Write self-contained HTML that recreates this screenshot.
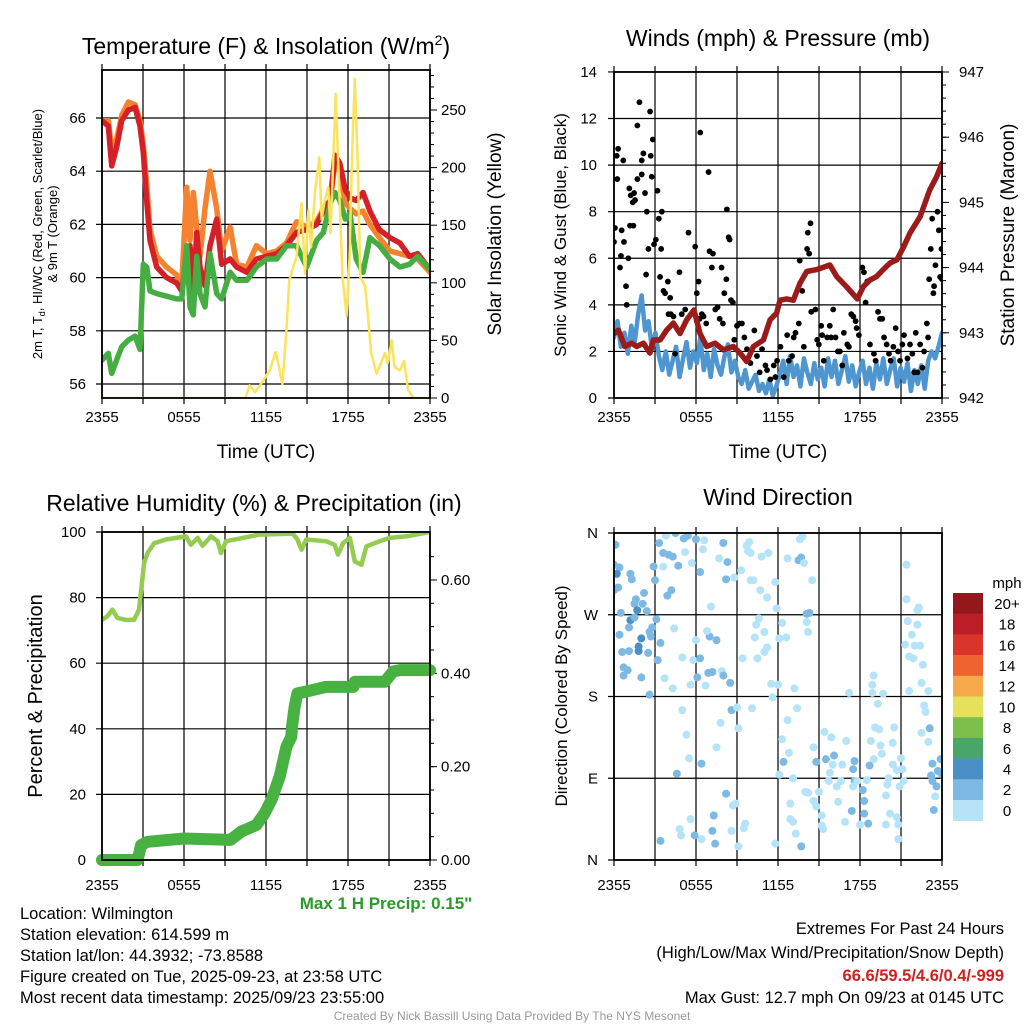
<!DOCTYPE html>
<html><head><meta charset="utf-8">
<style>
html,body{margin:0;padding:0;background:#fff;}
svg{display:block;font-family:"Liberation Sans",sans-serif;}
</style></head>
<body>
<svg id="fig" width="1024" height="1024" viewBox="0 0 1024 1024" xmlns="http://www.w3.org/2000/svg">
<defs>
<clipPath id="c1"><rect x="102" y="70" width="328" height="328"/></clipPath>
<clipPath id="c2"><rect x="614" y="72" width="328" height="326"/></clipPath>
<clipPath id="c3"><rect x="102" y="532" width="328" height="328"/></clipPath>
<clipPath id="c4"><rect x="614" y="533" width="328" height="327"/></clipPath>
</defs>
<rect width="1024" height="1024" fill="#fff"/>
<g id="layer"></g>
<!-- titles -->
<text x="266" y="54" font-size="23" text-anchor="middle">Temperature (F) &amp; Insolation (W/m<tspan font-size="14" dy="-9">2</tspan><tspan dy="9">)</tspan></text>
<text x="778" y="46" font-size="23" text-anchor="middle">Winds (mph) &amp; Pressure (mb)</text>
<text x="254" y="511" font-size="23" text-anchor="middle">Relative Humidity (%) &amp; Precipitation (in)</text>
<text x="778" y="505" font-size="23" text-anchor="middle">Wind Direction</text>
<!-- axis titles -->
<text transform="translate(42,234) rotate(-90)" font-size="13" text-anchor="middle">2m T, T<tspan font-size="9" dy="3">d</tspan><tspan dy="-3">, HI/WC (Red, Green, Scarlet/Blue)</tspan></text>
<text transform="translate(57,234) rotate(-90)" font-size="13" text-anchor="middle">&amp; 9m T (Orange)</text>
<text transform="translate(501,234) rotate(-90)" font-size="19" text-anchor="middle">Solar Insolation (Yellow)</text>
<text x="266" y="458" font-size="19" text-anchor="middle">Time (UTC)</text>
<text x="778" y="458" font-size="19" text-anchor="middle">Time (UTC)</text>
<text transform="translate(566,235) rotate(-90)" font-size="17" text-anchor="middle">Sonic Wind &amp; Gust (Blue, Black)</text>
<text transform="translate(1014,235) rotate(-90)" font-size="19" text-anchor="middle">Station Pressure (Maroon)</text>
<text transform="translate(42,696) rotate(-90)" font-size="20" text-anchor="middle">Percent &amp; Precipitation</text>
<text transform="translate(567,696) rotate(-90)" font-size="17" text-anchor="middle">Direction (Colored By Speed)</text>
<text x="386" y="909" font-size="17" font-weight="bold" fill="#2a9a2a" text-anchor="middle">Max 1 H Precip: 0.15"</text>
<!-- footer -->
<g font-size="16.5">
<text x="20" y="919">Location: Wilmington</text>
<text x="20" y="940">Station elevation: 614.599 m</text>
<text x="20" y="961">Station lat/lon: 44.3932; -73.8588</text>
<text x="20" y="982">Figure created on Tue, 2025-09-23, at 23:58 UTC</text>
<text x="20" y="1003">Most recent data timestamp: 2025/09/23 23:55:00</text>
</g>
<g font-size="16.5" text-anchor="end">
<text x="1004" y="934">Extremes For Past 24 Hours</text>
<text x="1004" y="958">(High/Low/Max Wind/Precipitation/Snow Depth)</text>
<text x="1004" y="981" font-weight="bold" fill="#d02020">66.6/59.5/4.6/0.4/-999</text>
<text x="1004" y="1003">Max Gust: 12.7 mph On 09/23 at 0145 UTC</text>
</g>
<text x="512" y="1020" font-size="12" fill="#999" text-anchor="middle">Created By Nick Bassill Using Data Provided By The NYS Mesonet</text>
</svg>
<script>
// ---------- data ----------
const tempHours = [0,0.46,0.71,1.07,1.44,1.93,2.42,2.78,3.02,3.27,3.51,4.0,4.73,5.46,5.83,6.2,6.44,6.68,6.93,7.17,7.54,7.9,8.39,8.76,9.37,9.85,10.6,11.3,12.05,12.78,13.5,14.24,14.97,15.7,16.2,16.7,17.05,17.4,17.8,18.15,18.6,19.1,19.6,20.3,21.07,21.8,22.5,23.1,24];
const tempRed = [65.9,65.7,64.2,64.9,65.9,66.3,66.4,65.7,64.7,62.9,61.4,60.4,60.0,59.8,59.5,60.7,61.2,59.4,61.7,60.4,59.7,61.2,62.2,60.5,60.7,60.4,60.2,60.7,60.8,60.9,61.2,61.7,61.8,62.0,62.5,62.9,64.6,64.3,63.3,63.0,62.9,63.2,62.5,61.8,61.5,61.3,60.8,60.9,60.3];
const temp9mOrange = [65.9,65.9,64.8,65.2,66.1,66.6,66.5,65.9,65.0,63.5,61.8,60.8,60.4,60.1,59.7,63.4,61.4,63.2,61.9,60.8,62.6,64.0,62.6,61.0,61.9,60.5,60.4,61.2,60.9,61.0,61.3,62.1,61.9,62.1,62.6,62.9,64.3,64.0,62.8,62.6,62.4,62.5,62.0,61.5,61.0,60.9,60.8,60.7,60.2];
const dewGreen = [56.9,57.15,56.4,56.9,57.4,57.65,57.8,57.3,60.5,60.4,59.5,59.4,59.3,59.2,59.2,61.2,58.9,58.6,60.8,59.4,58.9,60.9,59.4,59.2,60.2,59.9,59.9,60.4,60.7,60.7,61.2,61.2,60.4,61.4,61.7,62.8,63.2,62.9,62.2,62.4,60.7,60.2,61.5,61.2,60.7,60.4,60.5,60.8,60.3];
const solarHours = [0,10.5,10.8,11.2,11.8,12.3,12.7,12.9,13.2,13.5,13.7,14.24,14.6,14.85,15.1,15.3,15.58,15.9,16.07,16.3,16.56,16.73,16.9,17.1,17.36,17.6,17.9,18.1,18.3,18.5,18.7,18.9,19.25,19.4,19.7,20.1,20.3,20.7,20.9,21.2,21.4,21.8,22.1,22.4,22.8,24];
const solarValues = [0,0,11,5,15,25,40,30,12,60,102,123,169,108,163,131,178,209,155,172,183,143,201,264,178,105,71,120,212,277,207,105,97,79,39,21,27,39,30,50,27,24,32,7,0,0];
const tempTicks = [56,58,60,62,64,66];
const solarTicks = [0,50,100,150,200,250];
const timeTickLabels = ["2355","0555","1155","1755","2355"];

const sonicWind = [2.6,3.3,2.2,2.8,1.9,3.1,2.4,3.6,4.4,2.9,3.3,2.1,2.8,
 1.8,1.2,2.0,1.0,1.6,2.2,0.9,1.7,2.4,1.3,2.0,
 1.5,2.6,1.2,1.9,0.9,2.1,1.4,1.0,1.8,2.3,1.1,1.6,
 0.9,0.6,1.2,0.4,0.7,1.0,0.3,0.6,0.2,0.8,0.1,0.5,
 1.0,1.6,0.6,1.8,0.9,1.4,0.5,1.7,1.1,0.6,1.5,0.8,
 1.3,0.5,1.7,0.9,1.6,0.6,1.2,1.8,0.7,1.4,0.5,1.1,
 1.6,0.6,1.3,0.4,1.5,0.8,1.7,0.6,1.2,1.7,0.5,1.3,
 0.7,1.5,0.3,1.2,0.6,1.4,0.4,1.6,2.0,1.7,2.2,2.8];
const gustObs = [[0,6.7],[0.07,7.3],[0.2,10.4],[0.3,10.7],[0.24,9.4],[0.44,5.6],[0.56,7.2],[0.51,6.1],[0.68,10.2],[0.73,6.7],[0.88,4.8],[0.93,4.0],[1.05,6.0],[1.12,9.0],[1.17,7.4],[1.22,8.7],[1.42,7.4],[1.37,8.4],[1.47,8.8],[1.54,8.5],[1.71,11.7],[1.86,12.7],[1.71,9.4],[2.03,9.6],[2.03,10.2],[2.15,10.5],[2.27,8.8],[2.4,8.0],[2.35,5.3],[2.52,6.4],[2.64,12.3],[2.69,10.4],[2.76,9.5],[2.84,11.1],[2.93,6.6],[3.06,6.8],[3.18,8.9],[3.28,7.7],[3.5,8.0],[3.37,5.2],[3.45,6.4],[3.62,4.6],[3.74,4.5],[3.94,5.0],[4.11,4.3],[3.99,3.6],[4.16,3.6],[4.35,3.5],[4.47,1.9],[4.79,5.4],[4.96,3.6],[5.21,3.8],[5.45,7.1],[5.94,6.5],[6.06,4.5],[6.19,5.0],[6.31,11.4],[6.06,3.3],[6.26,3.4],[6.43,3.6],[6.55,3.5],[6.75,3.2],[6.92,9.7],[6.99,6.3],[7.24,6.2],[7.16,5.6],[7.41,3.8],[7.58,3.9],[7.73,3.4],[7.87,5.6],[7.97,3.2],[8.07,4.5],[8.22,5.1],[8.26,8.1],[8.39,6.9],[8.46,6.8],[8.56,4.2],[8.7,4.1],[8.8,2.5],[9.0,3.1],[9.19,3.2],[9.36,3.2],[9.54,2.6],[9.73,2.1],[9.98,1.5],[10.27,2.9],[10.46,1.8],[10.66,1.1],[10.83,2.1],[11.08,1.4],[11.2,1.2],[11.44,0.8],[11.69,1.4],[11.81,0.9],[11.93,1.6],[12.18,2.2],[12.42,0.9],[12.67,2.7],[12.79,1.6],[13.03,1.8],[13.15,2.6],[13.28,2.8],[13.52,3.2],[13.59,5.9],[13.77,4.6],[13.89,2.2],[14.13,6.4],[14.18,7.1],[14.28,6.2],[14.38,7.5],[14.43,3.7],[14.74,3.8],[14.87,2.5],[14.99,2.3],[15.16,3.1],[15.23,2.7],[15.35,1.6],[15.6,2.6],[15.79,3.1],[15.89,2.6],[16.04,3.8],[16.21,2.6],[16.38,2.0],[16.53,2.0],[16.7,1.4],[16.82,2.8],[17.07,2.3],[17.19,2.2],[17.36,3.6],[17.51,3.5],[17.68,3.3],[17.75,3.0],[17.92,2.7],[18.17,5.6],[18.29,5.4],[18.41,4.1],[18.53,5.0],[18.73,2.3],[19.02,1.9],[19.14,1.6],[19.32,3.7],[19.46,3.4],[19.63,3.4],[19.76,2.6],[19.95,2.3],[20.12,1.9],[20.24,1.6],[20.44,2.2],[20.61,3.0],[20.78,2.0],[20.93,1.6],[21.1,2.3],[21.22,2.7],[21.47,1.7],[21.66,2.3],[21.83,1.9],[21.96,1.1],[22.08,2.8],[22.2,1.1],[22.4,2.3],[22.57,1.3],[22.69,2.0],[22.89,3.2],[22.98,2.6],[23.06,5.1],[23.18,6.4],[23.28,7.7],[23.37,4.5],[23.42,4.8],[23.52,5.7],[23.67,8.0],[23.77,7.2],[23.86,5.2],[23.96,6.4],[24.0,5.1]];
const pressHours = [0,0.32,0.8,1.29,1.66,2.15,2.63,2.88,3.37,3.85,4.34,4.83,5.32,5.85,6.29,6.78,7.39,8.0,8.73,9.22,9.71,10.2,10.93,11.42,11.9,12.15,12.64,13.12,13.61,14.1,14.83,15.8,16.3,17.0,17.8,18.25,18.73,19.2,19.7,20.2,20.7,21.2,21.66,22.4,23.1,23.6,24];
const pressValues = [942.99,943.04,942.79,942.84,942.79,942.84,942.69,942.89,942.89,943.04,943.15,942.99,943.2,943.35,942.99,942.79,942.84,942.74,942.79,942.69,942.56,942.79,942.89,943.2,943.3,943.5,943.52,943.5,943.76,943.94,943.97,944.04,943.86,943.71,943.52,943.71,943.81,943.86,943.97,944.07,944.12,944.32,944.53,944.78,945.19,945.39,945.6];
const windTicks = [0,2,4,6,8,10,12,14];
const pressTicks = [942,943,944,945,946,947];

const rhHours = [0,0.39,0.77,1.12,1.74,2.35,2.71,3.08,3.33,3.82,4.67,5.9,6.14,6.5,7.0,7.36,7.98,8.46,8.71,9.08,10.3,11.52,13.97,14.3,14.6,14.95,16.4,17.03,17.27,17.64,18.13,18.5,18.98,19.35,20.33,21.06,22.3,24];
const rhValues = [73.2,74.3,76.3,73.8,73.2,73.2,76.3,90.5,93.6,96.6,97.7,98.5,98.7,96.1,98.2,95.8,98.7,97.2,93.6,97.2,98.2,99.2,99.5,97.7,94.6,97.7,97.2,96.1,93.1,96.6,98.2,91.0,90.0,95.6,97.2,98.2,98.7,100];
const precipHours = [0,2.6,2.86,3.33,6.0,9.4,10.2,11.3,11.9,12.4,13.0,13.5,13.85,13.9,14.1,14.3,14.95,16.4,18.4,18.5,20.7,21.3,21.8,24];
const precipValues = [0,0,0.032,0.039,0.046,0.043,0.061,0.075,0.1,0.129,0.179,0.243,0.264,0.286,0.329,0.357,0.361,0.371,0.371,0.382,0.382,0.404,0.407,0.407];
const rhTicks = [0,20,40,60,80,100];
const precipTicks = [0,0.2,0.4,0.6];
const precipTickLabels = ["0.00","0.20","0.40","0.60"];

const dirObs = [[0.1,347,3],[0,325,3],[0.4,322,3],[0.2,315,5],[0.3,300,3],[0,297,3],[0.5,272,3],[1.2,315,3],[1.3,309,3],[1.6,287,3],[1.5,282,3],[2.2,294,3],[2.1,282,3],[1.7,275,5],[2.4,274,3],[1.2,264,5],[1.5,267,3],[1.1,256,3],[2.0,244,5],[1.8,235,5],[1.8,230,5],[0.4,248,3],[0.6,229,3],[1.1,230,3],[2.6,251,3],[2.8,256,3],[2.7,246,3],[2.5,228,3],[3.2,220,3],[0.7,212,3],[1.0,209,3],[0.7,203,3],[2.0,201,3],[2.6,182,3],[3.1,265,3],[3.0,308,3],[2.9,323,3],[3.3,349,3],[3.8,357,1],[4.5,360,3],[5.1,354,3],[5.4,357,3],[6.0,353,3],[6.6,352,1],[6.5,342,1],[5.2,339,1],[3.6,338,3],[4.0,336,3],[4.3,334,3],[3.6,323,1],[4.7,324,3],[5.7,327,1],[6.3,317,3],[4.2,297,3],[3.9,291,3],[4.4,255,1],[6.0,242,1],[7.0,246,3],[6.8,252,1],[7.5,242,3],[3.4,239,3],[3.7,200,1],[4.3,189,1],[5.0,223,1],[5.6,193,1],[5.8,220,1],[6.3,222,3],[6.1,201,3],[6.7,192,1],[6.9,206,3],[7.2,207,3],[7.9,208,1],[8.0,203,3],[8.5,195,3],[7.1,279,1],[7.7,332,1],[8.0,349,3],[8.3,328,3],[8.2,309,3],[8.8,311,1],[9.3,319,1],[9.7,346,1],[9.9,350,1],[9.8,340,1],[10.0,338,1],[10.8,334,1],[11.3,338,1],[10.0,308,1],[10.2,308,1],[10.7,297,1],[11.2,289,1],[11.8,306,1],[11.9,277,1],[10.6,266,1],[10.4,259,1],[11.0,251,1],[10.3,245,1],[11.2,234,1],[11.0,229,1],[10.5,222,1],[9.4,222,1],[12.3,261,1],[12.1,244,1],[12.6,245,1],[11.5,194,1],[12.0,193,1],[11.6,179,1],[13.2,189,1],[12.7,332,1],[13.5,330,3],[13.7,333,3],[13.9,327,1],[13.6,353,1],[13.8,356,1],[14.5,308,1],[14.1,271,3],[14.3,272,3],[14.1,262,1],[14.2,251,1],[5.0,165,1],[5.3,138,1],[5.5,112,1],[4.6,95,3],[6.4,106,3],[7.5,124,1],[7.8,151,1],[8.6,165,3],[9.0,168,1],[9.1,145,1],[10.1,167,1],[13.4,167,1],[12.7,154,1],[12.3,133,1],[12.8,118,1],[12.4,108,3],[12.1,94,1],[13.1,90,1],[14.6,124,1],[14.8,108,3],[15.4,141,1],[15.9,135,1],[15.5,111,3],[16.1,115,3],[16.0,105,1],[15.8,96,1],[15.7,87,1],[16.3,81,1],[16.6,87,1],[16.7,105,1],[17.0,131,1],[17.2,184,1],[17.6,109,3],[17.5,100,3],[17.6,87,3],[17.5,81,1],[17.8,87,1],[18.2,77,3],[18.3,65,3],[18.5,88,1],[18.7,104,3],[19.0,111,1],[18.8,131,1],[19.1,146,1],[19.4,144,1],[19.5,126,1],[19.6,117,1],[19.0,203,1],[18.9,193,1],[18.9,184,1],[19.3,172,1],[19.7,183,1],[20.5,146,1],[20.4,129,1],[20.4,105,1],[20.1,90,1],[20.0,83,1],[19.9,71,1],[21.0,112,1],[21.1,100,1],[21.2,87,1],[20.9,81,1],[20.7,99,1],[20.2,51,1],[20.7,47,1],[20.8,23,1],[19.9,39,1],[20.8,39,1],[17.4,54,3],[18.0,39,1],[18.3,51,3],[18.6,40,3],[16.9,42,1],[16.4,64,1],[15.2,38,1],[15.3,34,1],[15.2,49,1],[14.8,59,1],[14.6,65,1],[15.0,75,1],[14.2,74,1],[12.9,62,1],[14.0,75,1],[12.9,45,1],[13.1,42,1],[13.3,29,1],[13.7,15,3],[11.8,18,1],[9.1,15,1],[9.6,40,1],[9.5,35,1],[8.6,32,1],[8.7,60,1],[8.9,62,1],[8.2,73,3],[7.3,49,3],[7.2,32,3],[7.4,18,3],[6.4,23,1],[5.9,27,3],[5.6,45,1],[4.8,34,1],[4.9,27,1],[3.4,21,3],[21.4,325,1],[21.4,287,1],[22.2,275,1],[22.3,278,1],[21.5,263,1],[22.2,259,1],[21.8,248,1],[22.0,236,1],[22.4,236,1],[21.3,237,1],[21.6,224,1],[21.9,222,1],[22.6,215,1],[22.5,195,1],[23.0,186,1],[21.6,186,1],[22.7,170,1],[22.8,163,1],[23.1,145,3],[22.5,140,1],[23.0,130,1],[23.3,106,3],[23.9,111,3],[23.7,98,3],[23.2,93,3],[23.3,87,3],[23.6,81,3],[23.5,70,1],[24.0,94,3],[23.4,55,3]];
const dirTicks = [0,90,180,270,360];
const dirTickLabels = ["N","E","S","W","N"];
const speedBins = ["0","2","4","6","8","10","12","14","16","18","20+"];
const speedColors = ["#b5e3f8","#7db9e3","#4a8fc6","#4aa56b","#7cc04c","#e6e15a","#f6a84b","#ef6330","#d9352a","#bb1e26","#93181c"];

// ---------- helpers ----------
const NS = "http://www.w3.org/2000/svg";
const layer = document.getElementById("layer");
function mk(tag, attrs, parent){
  const e = document.createElementNS(NS, tag);
  for (const k in attrs) e.setAttribute(k, attrs[k]);
  (parent || layer).appendChild(e);
  return e;
}
function pathD(xs, ys, sx, sy){
  return xs.map((x,i)=>(i?"L":"M")+sx(x).toFixed(1)+","+sy(ys[i]).toFixed(1)).join("");
}
function frame(name, x0, y0, x1, y1, xt){
  const g = mk("g", {});
  
  
  for (let h = 0; h <= 24; h += 3){
    const x = x0 + h/24*(x1-x0);
    mk("line", {x1:x, y1:y0-6, x2:x, y2:y1+6, stroke:"#000", "stroke-width":1.2}, g);
  }
  timeTickLabels.forEach((lab,i)=>{
    const x = x0 + (i*6)/24*(x1-x0);
    const t = mk("text", {x:x, y:xt, "font-size":15, "text-anchor":"middle"}, g);
    
    
    t.textContent = lab;
  });
  return g;
}
function hgrid(g, ys, x0, x1){
  ys.forEach(y => mk("line", {x1:x0-6, y1:y, x2:x1, y2:y, stroke:"#000", "stroke-width":1.2}, g));
}
function yLabels(g, name, vals, labels, sy, x, anchor){
  vals.forEach((v,i)=>{
    const t = mk("text", {x:x, y:sy(v)+5, "font-size":15, "text-anchor":anchor}, g);
    
    
    t.textContent = labels[i];
  });
}
function rightTicks(g, vals, sy, x, len){
  vals.forEach(v => mk("line", {x1:x, y1:sy(v), x2:x+len, y2:sy(v), stroke:"#000", "stroke-width":1}, g));
}
function border(x0,y0,x1,y1){
  const r = mk("rect", {x:x0, y:y0, width:x1-x0, height:y1-y0, fill:"none", stroke:"#000", "stroke-width":1.8});
  
  
}

// ---------- Panel 1: temperature ----------
{
  const x0=102,x1=430,y0=70,y1=398;
  const sx = t => x0 + t/24*(x1-x0);
  const yT = v => 384 - (v-56)*26.6;
  const yI = v => 398 - v*1.152;
  const g = frame("temp", x0,y0,x1,y1, 422);
  hgrid(g, tempTicks.map(yT), x0, x1);
  yLabels(g, "temp-y-tick-label", tempTicks, tempTicks.map(String), yT, 86, "end");
  rightTicks(g, solarTicks, yI, x1, 7);
  const minor=[]; for (let v=10; v<=280; v+=10) if (v%50) minor.push(v);
  rightTicks(g, minor, yI, x1, 4);
  yLabels(g, "solar-y-tick-label", solarTicks, solarTicks.map(String), yI, 441, "start");
  const c = mk("g", {"clip-path":"url(#c1)", fill:"none", "stroke-linejoin":"round", "stroke-linecap":"round"});
  const o = mk("path", {d:pathD(tempHours,temp9mOrange,sx,yT), stroke:"#f5822f", "stroke-width":5.5}, c);
  
  
  const r = mk("path", {d:pathD(tempHours,tempRed,sx,yT), stroke:"#d42027", "stroke-width":5.5}, c);
  
  
  const gr = mk("path", {d:pathD(tempHours,dewGreen,sx,yT), stroke:"#46ad43", "stroke-width":5.5}, c);
  
  
  const yl = mk("path", {d:pathD(solarHours,solarValues,sx,yI), stroke:"#fbe45b", "stroke-width":2.5}, c);
  
  
  border(x0,y0,x1,y1);
}

// ---------- Panel 2: winds ----------
{
  const x0=614,x1=942,y0=72,y1=398;
  const sx = t => x0 + t/24*(x1-x0);
  const yW = v => 398 - v*23.29;
  const yP = p => 398 - (p-942)*65.2;
  const g = frame("wind", x0,y0,x1,y1, 422);
  hgrid(g, windTicks.map(yW), x0, x1);
  yLabels(g, "wind-y-tick-label", windTicks, windTicks.map(String), yW, 597, "end");
  rightTicks(g, pressTicks, yP, x1, 7);
  const minor=[]; for (let p=942.2; p<947; p+=0.2) minor.push(p);
  rightTicks(g, minor, yP, x1, 4);
  yLabels(g, "pressure-y-tick-label", pressTicks, pressTicks.map(String), yP, 959, "start");
  const c = mk("g", {"clip-path":"url(#c2)", "stroke-linejoin":"round", "stroke-linecap":"round"});
  const hours = sonicWind.map((v,i)=> i*24/(sonicWind.length-1));
  const b = mk("path", {d:pathD(hours,sonicWind,sx,yW), stroke:"#4f96d0", "stroke-width":4.5, fill:"none"}, c);
  
  
  gustObs.forEach(p=>{
    const d = mk("circle", {cx:sx(p[0]), cy:yW(p[1]), r:2.9, fill:"#000"}, c);
    
    
  });
  const m = mk("path", {d:pathD(pressHours,pressValues,sx,yP), stroke:"#9b1b1b", "stroke-width":5.5, fill:"none"}, c);
  
  
  border(x0,y0,x1,y1);
}

// ---------- Panel 3: RH & precip ----------
{
  const x0=102,x1=430,y0=532,y1=860;
  const sx = t => x0 + t/24*(x1-x0);
  const yR = v => 860 - v*3.28;
  const yPr = v => 860 - v*466.7;
  const g = frame("rh", x0,y0,x1,y1, 890);
  hgrid(g, rhTicks.map(yR), x0, x1);
  yLabels(g, "rh-y-tick-label", rhTicks, rhTicks.map(String), yR, 86, "end");
  rightTicks(g, precipTicks, yPr, x1, 7);
  const minor=[]; for (let v=0.05; v<0.7; v+=0.05) minor.push(v);
  rightTicks(g, minor, yPr, x1, 4);
  yLabels(g, "precip-y-tick-label", precipTicks, precipTickLabels, yPr, 441, "start");
  const c = mk("g", {"clip-path":"url(#c3)", fill:"none", "stroke-linejoin":"round", "stroke-linecap":"round"});
  const rh = mk("path", {d:pathD(rhHours,rhValues,sx,yR), stroke:"#94cc52", "stroke-width":4.5}, c);
  
  
  const pr = mk("path", {d:pathD(precipHours,precipValues,sx,yPr), stroke:"#47b142", "stroke-width":12}, layer);
  pr.setAttribute('fill', 'none');
  pr.setAttribute('stroke-linejoin', 'round');
  pr.setAttribute('stroke-linecap', 'round');
  
  
  border(x0,y0,x1,y1);
}

// ---------- Panel 4: wind direction ----------
{
  const x0=614,x1=942,y0=533,y1=860;
  const sx = t => x0 + t/24*(x1-x0);
  const yD = d => 860 - d/360*(y1-y0);
  const g = frame("direction", x0,y0,x1,y1, 890);
  hgrid(g, dirTicks.map(yD), x0, x1);
  yLabels(g, "direction-y-tick-label", dirTicks, dirTickLabels, yD, 598, "end");
  const c = mk("g", {"clip-path":"url(#c4)"});
  dirObs.forEach(p=>{
    const bin = Math.min(10, Math.floor(p[2]/2));
    const d = mk("circle", {cx:sx(p[0]), cy:yD(p[1]), r:4, fill:speedColors[bin]}, c);
    
    
  });
  border(x0,y0,x1,y1);
  // colorbar
  const cb = mk("g", {});
  
  
  const bh = 20.7, top = 593;
  speedColors.slice().reverse().forEach((col,i)=>{
    const r = mk("rect", {x:953, y:top+i*bh, width:30, height:bh+0.3, fill:col}, cb);
    
    
  });
  speedBins.slice().reverse().forEach((lab,i)=>{
    const t = mk("text", {x:1007, y:top+i*bh+bh/2+5.5, "font-size":15, "text-anchor":"middle"}, cb);
    
    
    t.textContent = lab;
  });
  const u = mk("text", {x:1007, y:588, "font-size":15, "text-anchor":"middle"}, cb);
  
  
  u.textContent = "mph";
}
</script>
</body></html>
